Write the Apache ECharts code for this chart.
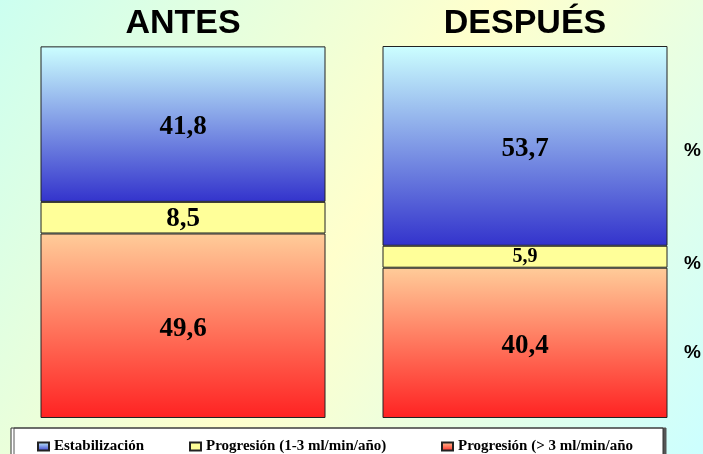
<!DOCTYPE html>
<html>
<head>
<meta charset="utf-8">
<script src="https://cdn.jsdelivr.net/npm/echarts@6/dist/echarts.min.js"></script>
<style>
  html, body { margin: 0; padding: 0; }
  #chart { width: 703px; height: 454px; }
</style>
</head>
<body>
<div id="chart"></div>
<script>
const categories = ['ANTES', 'DESPUÉS']
const estabilizacion = [41.8, 53.7]
const progresionLeve = [8.5, 5.9]
const progresionRapida = [49.6, 40.4]
const seriesNames = ['Estabilización', 'Progresión (1-3 ml/min/año)', 'Progresión (> 3 ml/min/año']

const chart = echarts.init(document.getElementById('chart'))

const fmt = (p) => String(p.value).replace('.', ',')
const labelStyle = {
  show: true,
  position: 'inside',
  offset: [0, 3],
  fontFamily: 'Liberation Serif',
  fontWeight: 'bold',
  fontSize: 27,
  color: '#000',
  formatter: fmt
}
const border = { borderColor: '#222', borderWidth: 1 }
const legendText = {
  fontFamily: 'Liberation Serif',
  fontWeight: 'bold',
  fontSize: 15,
  color: '#000'
}
// one legend per item so each sits where the original puts it
const legendLefts = [32, 184, 436]
const legends = seriesNames.map((name, i) => ({
  data: [name],
  left: legendLefts[i],
  top: 434,
  itemWidth: 11,
  itemHeight: 8,
  itemGap: 5,
  icon: 'rect',
  selectedMode: false,
  textStyle: legendText
}))

const pct = (y) => ({
  type: 'text', x: 684, y: y,
  style: { text: '%', font: 'bold 19px Liberation Sans', fill: '#000', verticalAlign: 'middle' }
})

chart.setOption({
  backgroundColor: new echarts.graphic.LinearGradient(0, 0, 1, 1, [
    { offset: 0, color: '#ccfff0' },
    { offset: 0.5, color: '#ffffcc' },
    { offset: 1, color: '#ccffff' }
  ]),
  animation: false,
  grid: { left: 12, right: 7, top: 46, bottom: 36 },
  xAxis: {
    type: 'category',
    position: 'top',
    data: categories,
    axisLine: { show: false },
    axisTick: { show: false },
    axisLabel: {
      margin: 5,
      fontFamily: 'Liberation Sans',
      fontWeight: 'bold',
      fontSize: 34,
      color: '#000'
    }
  },
  yAxis: { type: 'value', min: 0, max: 100, show: false },
  legend: legends,
  graphic: [
    {
      type: 'rect',
      shape: { x: 11, y: 428, width: 652, height: 30 },
      style: { fill: '#fff', stroke: '#333', lineWidth: 1, shadowColor: '#555', shadowOffsetX: 3, shadowOffsetY: 0 },
      z: -1
    },
    pct(151),
    pct(264),
    pct(353)
  ],
  series: [
    {
      name: seriesNames[2],
      type: 'bar',
      stack: 'total',
      barWidth: 285,
      data: progresionRapida,
      label: labelStyle,
      itemStyle: Object.assign({
        color: new echarts.graphic.LinearGradient(0, 0, 0, 1, [
          { offset: 0, color: '#ffcc99' },
          { offset: 1, color: '#ff2222' }
        ])
      }, border)
    },
    {
      name: seriesNames[1],
      type: 'bar',
      stack: 'total',
      barWidth: 285,
      data: [
        progresionLeve[0],
        { value: progresionLeve[1], label: { fontSize: 20, offset: [0, 0] } }
      ],
      label: Object.assign({}, labelStyle, { offset: [0, 1] }),
      itemStyle: Object.assign({ color: '#ffff99' }, border)
    },
    {
      name: seriesNames[0],
      type: 'bar',
      stack: 'total',
      barWidth: 285,
      data: estabilizacion,
      label: labelStyle,
      itemStyle: Object.assign({
        color: new echarts.graphic.LinearGradient(0, 0, 0, 1, [
          { offset: 0, color: '#ccffff' },
          { offset: 1, color: '#3333cc' }
        ])
      }, border)
    }
  ]
})
</script>
</body>
</html>
